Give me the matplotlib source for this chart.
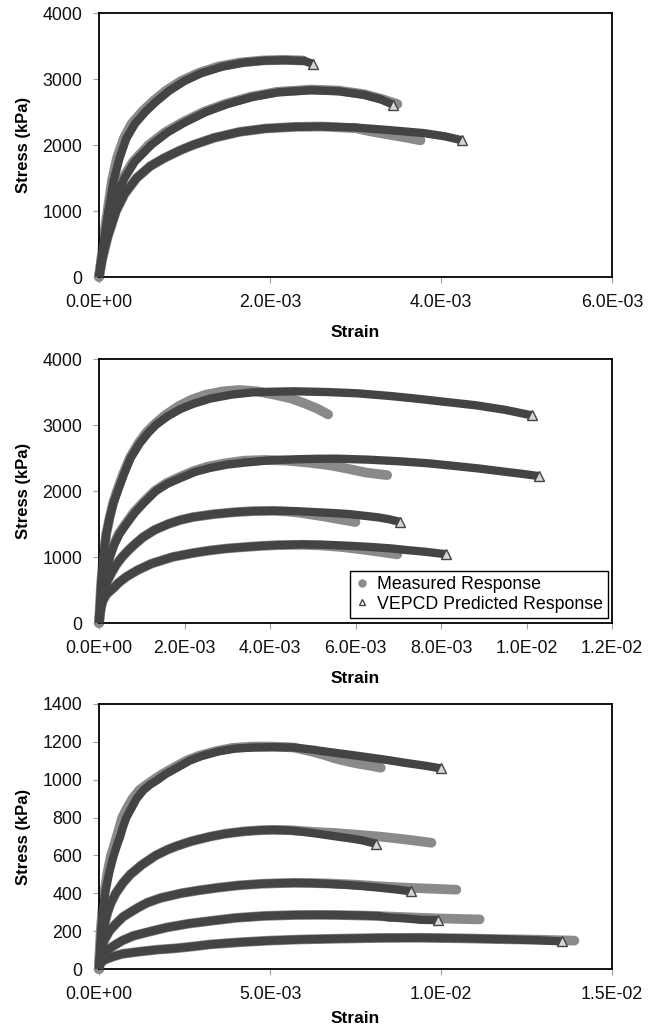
import numpy as np
import matplotlib
matplotlib.use("Agg")
import matplotlib.pyplot as plt
from matplotlib.lines import Line2D
from matplotlib.ticker import FuncFormatter, MultipleLocator

plt.rcParams['font.family'] = ['Liberation Sans', 'DejaVu Sans']

# ---------------- data (strain in units of 1e-3, stress in kPa) ----------------
# Panel 1
p1_pred_strain = [[0, 0.03, 0.07, 0.11, 0.17, 0.24, 0.32, 0.42, 0.54, 0.67, 0.82, 1.0, 1.2, 1.45, 1.7, 1.95, 2.2, 2.4, 2.5],
                  [0, 0.04, 0.09, 0.15, 0.22, 0.3, 0.42, 0.61, 0.8, 1.0, 1.25, 1.5, 1.8, 2.1, 2.48, 2.8, 3.1, 3.3, 3.44],
                  [0, 0.04, 0.1, 0.2, 0.3, 0.44, 0.6, 0.76, 0.95, 1.1, 1.35, 1.65, 1.95, 2.3, 2.6, 3.0, 3.4, 3.8, 4.05, 4.25]]
p1_pred_stress = [[0, 300, 650, 1000, 1450, 1800, 2100, 2320, 2500, 2660, 2820, 2970, 3090, 3190, 3250, 3280, 3285, 3275, 3230],
                  [0, 350, 700, 1000, 1280, 1500, 1750, 2000, 2190, 2340, 2500, 2620, 2730, 2800, 2830, 2815, 2760, 2690, 2610],
                  [0, 280, 600, 1000, 1260, 1500, 1680, 1800, 1920, 2000, 2110, 2200, 2250, 2275, 2280, 2265, 2225, 2180, 2130, 2070]]
p1_meas_strain = [[0, 0.03, 0.06, 0.1, 0.15, 0.21, 0.29, 0.38, 0.5, 0.63, 0.78, 0.96, 1.16, 1.4, 1.65, 1.9, 2.15, 2.39],
                  [0, 0.04, 0.08, 0.14, 0.2, 0.28, 0.4, 0.58, 0.77, 0.97, 1.22, 1.47, 1.77, 2.08, 2.48, 2.8, 3.1, 3.3, 3.49],
                  [0, 0.04, 0.1, 0.2, 0.3, 0.44, 0.6, 0.76, 0.95, 1.1, 1.35, 1.65, 1.95, 2.3, 2.6, 3.0, 3.2, 3.42, 3.6, 3.76]]
p1_meas_stress = [[0, 300, 650, 1000, 1450, 1800, 2100, 2320, 2500, 2660, 2820, 2970, 3090, 3190, 3250, 3280, 3290, 3280],
                  [0, 350, 700, 1000, 1280, 1500, 1750, 2000, 2190, 2340, 2500, 2620, 2730, 2805, 2840, 2825, 2770, 2700, 2620],
                  [0, 280, 600, 1000, 1260, 1500, 1680, 1800, 1920, 2000, 2110, 2200, 2250, 2275, 2280, 2255, 2200, 2150, 2110, 2070]]

# Panel 2
p2_pred_strain = [[0, 0.02, 0.05, 0.1, 0.17, 0.25, 0.34, 0.44, 0.58, 0.74, 0.95, 1.15, 1.33, 1.6, 1.9, 2.2, 2.6, 3.1, 3.6, 4.08, 4.6, 5.3, 6.05, 6.8, 7.42, 8.1, 8.8, 9.5, 10.13],
                  [0, 0.03, 0.07, 0.12, 0.18, 0.25, 0.35, 0.48, 0.64, 0.85, 1.05, 1.33, 1.6, 1.92, 2.25, 2.6, 3.0, 3.4, 4.0, 4.57, 5.1, 5.56, 6.3, 7.03, 7.7, 8.31, 8.9, 9.39, 9.9, 10.3],
                  [0, 0.03, 0.08, 0.14, 0.2, 0.3, 0.4, 0.54, 0.7, 0.85, 1.03, 1.3, 1.62, 1.9, 2.2, 2.7, 3.2, 3.6, 4.08, 4.6, 5.06, 5.5, 5.85, 6.2, 6.54, 6.8, 7.05],
                  [0, 0.02, 0.05, 0.1, 0.17, 0.25, 0.34, 0.46, 0.64, 0.9, 1.23, 1.72, 2.2, 2.6, 3.0, 3.4, 3.8, 4.18, 4.77, 5.3, 5.85, 6.35, 6.83, 7.2, 7.62, 8.11]]
p2_pred_stress = [[0, 250, 600, 1000, 1350, 1600, 1820, 2000, 2250, 2500, 2720, 2880, 3000, 3130, 3240, 3320, 3400, 3460, 3495, 3505, 3510, 3500, 3480, 3440, 3400, 3350, 3300, 3230, 3145],
                  [0, 200, 420, 600, 800, 1000, 1180, 1350, 1500, 1680, 1820, 2000, 2110, 2200, 2290, 2350, 2400, 2430, 2465, 2480, 2488, 2490, 2475, 2450, 2420, 2380, 2340, 2300, 2260, 2225],
                  [0, 180, 360, 520, 640, 770, 880, 1000, 1110, 1200, 1300, 1410, 1500, 1560, 1605, 1650, 1680, 1695, 1700, 1695, 1680, 1665, 1650, 1625, 1600, 1570, 1530],
                  [0, 120, 250, 350, 430, 480, 530, 610, 700, 800, 900, 1000, 1060, 1100, 1130, 1150, 1168, 1180, 1190, 1185, 1170, 1152, 1130, 1105, 1080, 1043]]
p2_meas_strain = [[0, 0.02, 0.05, 0.1, 0.17, 0.25, 0.33, 0.42, 0.56, 0.72, 0.92, 1.1, 1.28, 1.55, 1.85, 2.15, 2.5, 2.9, 3.3, 3.7, 4.1, 4.5, 4.8, 5.1, 5.36],
                  [0, 0.03, 0.07, 0.12, 0.18, 0.25, 0.34, 0.46, 0.62, 0.82, 1.02, 1.3, 1.58, 1.88, 2.2, 2.55, 2.95, 3.4, 3.9, 4.4, 4.9, 5.4, 5.8, 6.24, 6.74],
                  [0, 0.03, 0.08, 0.14, 0.2, 0.3, 0.4, 0.54, 0.7, 0.85, 1.03, 1.3, 1.62, 1.9, 2.2, 2.7, 3.2, 3.6, 4.08, 4.4, 4.7, 5.0, 5.3, 5.6, 6.0],
                  [0, 0.02, 0.05, 0.1, 0.17, 0.25, 0.34, 0.46, 0.64, 0.9, 1.23, 1.72, 2.2, 2.6, 3.0, 3.4, 3.8, 4.18, 4.77, 5.2, 5.7, 6.2, 6.6, 6.98]]
p2_meas_stress = [[0, 250, 600, 1000, 1350, 1600, 1820, 2000, 2250, 2500, 2720, 2880, 3000, 3150, 3280, 3380, 3460, 3510, 3530, 3510, 3460, 3400, 3330, 3250, 3160],
                  [0, 200, 420, 600, 800, 1000, 1180, 1350, 1500, 1680, 1820, 2000, 2120, 2210, 2300, 2370, 2420, 2460, 2470, 2460, 2430, 2390, 2340, 2280, 2240],
                  [0, 180, 360, 520, 640, 770, 880, 1000, 1110, 1200, 1300, 1410, 1500, 1560, 1605, 1650, 1680, 1695, 1700, 1690, 1670, 1640, 1610, 1575, 1530],
                  [0, 120, 250, 350, 430, 480, 530, 610, 700, 800, 900, 1000, 1060, 1100, 1130, 1150, 1168, 1180, 1185, 1175, 1150, 1110, 1075, 1040]]

# Panel 3
p3_pred_strain = [[0, 0.03, 0.06, 0.1, 0.18, 0.3, 0.43, 0.52, 0.62, 0.7, 0.8, 0.95, 1.1, 1.3, 1.5, 1.72, 1.95, 2.15, 2.4, 2.64, 3.0, 3.5, 4.0, 4.5, 5.1, 5.7, 6.2, 6.58, 7.2, 7.81, 8.4, 8.92, 9.5, 10.0],
                  [0, 0.02, 0.05, 0.08, 0.12, 0.18, 0.25, 0.35, 0.49, 0.7, 0.92, 1.25, 1.66, 2.0, 2.28, 2.7, 3.26, 3.7, 4.24, 4.7, 5.1, 5.6, 6.09, 6.5, 6.95, 7.35, 7.69, 8.09],
                  [0, 0.02, 0.06, 0.15, 0.3, 0.5, 0.7, 0.92, 1.15, 1.41, 1.8, 2.4, 2.9, 3.5, 4.1, 4.74, 5.2, 5.72, 6.2, 6.7, 7.2, 7.7, 8.18, 8.7, 9.13],
                  [0, 0.02, 0.06, 0.15, 0.25, 0.45, 0.68, 1.0, 1.54, 2.0, 2.64, 3.3, 4.0, 4.8, 5.7, 6.4, 7.0, 7.6, 8.18, 8.49, 8.73, 9.1, 9.4, 9.9],
                  [0, 0.02, 0.06, 0.18, 0.4, 0.68, 1.2, 1.7, 2.28, 2.8, 3.26, 4.1, 4.98, 5.9, 6.95, 8.2, 9.4, 10.6, 11.9, 12.8, 13.53]]
p3_pred_stress = [[0, 100, 200, 290, 400, 510, 600, 650, 700, 750, 800, 850, 900, 945, 975, 1000, 1030, 1050, 1075, 1100, 1125, 1150, 1165, 1170, 1172, 1170, 1160, 1150, 1135, 1120, 1105, 1090, 1075, 1060],
                  [0, 60, 120, 160, 200, 250, 300, 350, 400, 455, 500, 550, 600, 630, 650, 675, 700, 715, 727, 733, 735, 732, 722, 712, 700, 690, 680, 662],
                  [0, 40, 100, 150, 200, 240, 275, 300, 325, 350, 375, 400, 415, 430, 442, 450, 453, 455, 454, 450, 445, 438, 430, 420, 410],
                  [0, 25, 50, 80, 100, 125, 150, 175, 200, 220, 240, 255, 270, 280, 285, 286, 285, 283, 280, 272, 270, 265, 260, 258],
                  [0, 20, 35, 50, 65, 80, 92, 102, 110, 120, 130, 141, 150, 156, 160, 164, 165, 162, 157, 152, 146]]
p3_meas_strain = [[0, 0.02, 0.05, 0.09, 0.15, 0.25, 0.35, 0.44, 0.52, 0.6, 0.68, 0.82, 0.98, 1.18, 1.4, 1.6, 1.85, 2.05, 2.3, 2.55, 2.9, 3.4, 3.9, 4.5, 5.1, 5.7, 6.2, 6.6, 6.95, 7.3, 7.56, 7.9, 8.24],
                  [0, 0.02, 0.05, 0.08, 0.12, 0.18, 0.25, 0.35, 0.49, 0.7, 0.92, 1.25, 1.66, 2.0, 2.28, 2.7, 3.26, 3.7, 4.24, 4.7, 5.1, 5.6, 6.09, 6.5, 6.95, 7.5, 8.18, 8.7, 9.16, 9.72],
                  [0, 0.02, 0.06, 0.15, 0.3, 0.5, 0.7, 0.92, 1.15, 1.41, 1.8, 2.4, 2.9, 3.5, 4.1, 4.74, 5.2, 5.72, 6.2, 6.7, 7.2, 7.56, 8.2, 8.92, 9.6, 10.45],
                  [0, 0.02, 0.06, 0.15, 0.25, 0.45, 0.68, 1.0, 1.54, 2.0, 2.64, 3.3, 4.0, 4.8, 5.7, 6.4, 7.0, 7.8, 8.8, 9.5, 10.0, 10.6, 11.13],
                  [0, 0.02, 0.06, 0.18, 0.4, 0.68, 1.2, 1.7, 2.28, 2.8, 3.26, 4.1, 4.98, 5.9, 6.95, 8.2, 9.4, 10.6, 11.9, 12.8, 13.4, 13.9]]
p3_meas_stress = [[0, 100, 200, 290, 400, 510, 600, 650, 700, 750, 800, 850, 900, 945, 975, 1000, 1030, 1050, 1075, 1100, 1125, 1150, 1168, 1175, 1175, 1170, 1150, 1130, 1110, 1095, 1085, 1075, 1063],
                  [0, 60, 120, 160, 200, 250, 300, 350, 400, 455, 500, 550, 600, 630, 650, 675, 700, 715, 727, 733, 735, 733, 727, 722, 718, 710, 700, 690, 680, 667],
                  [0, 40, 100, 150, 200, 240, 275, 300, 325, 350, 375, 400, 415, 430, 442, 450, 453, 455, 454, 452, 448, 445, 437, 430, 425, 419],
                  [0, 25, 50, 80, 100, 125, 150, 175, 200, 220, 240, 255, 270, 280, 285, 286, 285, 282, 275, 270, 267, 264, 262],
                  [0, 20, 35, 50, 65, 80, 92, 102, 110, 120, 130, 141, 150, 156, 160, 164, 165, 162, 157, 155, 152, 150]]

legend_labels = ["Measured Response", "VEPCD Predicted Response"]

# ---------------- styling ----------------
MEAS_C = '#8a8a8a'
PRED_C = '#444444'
TRI_FILL = '#d5d5d5'
FS = 12.8

fig = plt.figure(figsize=(6.58, 10.29), dpi=100)
W, H = 658, 1029

def add_ax(top_px, bot_px):
    return fig.add_axes([99 / W, 1 - bot_px / H, (612 - 99) / W, (bot_px - top_px) / H])

panels = [
    (add_ax(13, 277), p1_meas_strain, p1_meas_stress, p1_pred_strain, p1_pred_stress, 6.0e-3, 2.0e-3, 4000, 1000, 10),
    (add_ax(359, 623), p2_meas_strain, p2_meas_stress, p2_pred_strain, p2_pred_stress, 1.2e-2, 2.0e-3, 4000, 1000, 10),
    (add_ax(704, 969), p3_meas_strain, p3_meas_stress, p3_pred_strain, p3_pred_stress, 1.5e-2, 5.0e-3, 1400, 200, 6),
]

fmt = FuncFormatter(lambda v, pos: f"{v:.1E}")

for ax, ms, mst, ps, pst, xmax, xstep, ymax, ystep, xpad in panels:
    for sx, sy in zip(ms, mst):
        x = np.array(sx) * 1e-3
        ax.plot(x, sy, color=MEAS_C, lw=7.0, solid_capstyle='round',
                solid_joinstyle='round', zorder=2, clip_on=False)
    for sx, sy in zip(ps, pst):
        x = np.array(sx) * 1e-3
        ax.plot(x, sy, color=PRED_C, lw=6.0, solid_capstyle='butt',
                solid_joinstyle='round', zorder=3, clip_on=False)
        ax.plot(x, sy, ls='none', marker='^', ms=6.5, mfc=TRI_FILL, mec=PRED_C,
                mew=1.0, markevery=[len(sx) - 1], zorder=4, clip_on=False)
    ax.set_xlim(0, xmax)
    ax.set_ylim(0, ymax)
    ax.xaxis.set_major_locator(MultipleLocator(xstep))
    ax.yaxis.set_major_locator(MultipleLocator(ystep))
    ax.xaxis.set_major_formatter(fmt)
    ax.tick_params(axis='both', direction='out', length=4, width=0.8, color='#a0a0a0',
                   labelsize=FS, labelcolor='#111111', pad=8)
    for sp in ax.spines.values():
        sp.set_linewidth(1.3)
        sp.set_color('black')
    ax.set_ylabel("Stress (kPa)", fontsize=12, fontweight='bold', labelpad=8)
    ax.set_xlabel("Strain", fontsize=12.5, fontweight='bold', labelpad=xpad)

handles = [
    Line2D([], [], ls='none', marker='o', ms=5, mfc=MEAS_C, mec=MEAS_C),
    Line2D([], [], ls='none', marker='^', ms=5, mfc='white', mec=PRED_C, mew=1.0),
]
leg = panels[1][0].legend(handles, legend_labels, loc='lower right',
                          bbox_to_anchor=(0.992, 0.019), fontsize=FS, frameon=True,
                          fancybox=False, edgecolor='black', framealpha=1,
                          handlelength=0.8, handletextpad=0.4, borderpad=0.3,
                          labelspacing=0.15, borderaxespad=0)
leg.get_frame().set_linewidth(1.0)

fig.savefig("out.png", dpi=100)
